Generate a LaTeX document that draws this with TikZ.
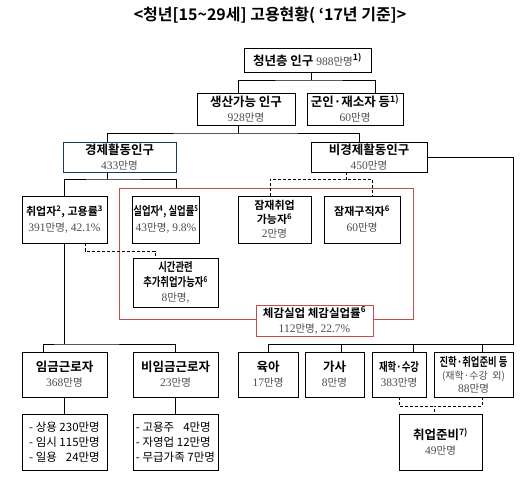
\documentclass[tikz,border=0pt]{standalone}
\usepackage{fontspec}
\setmainfont{Noto Sans CJK KR}[BoldFont={Noto Sans CJK KR Bold}]
\newfontfamily\condfont{Noto Sans CJK KR}[FakeStretch=0.78,BoldFont={Noto Sans CJK KR Bold},BoldFeatures={FakeStretch=0.78}]
\newfontfamily\numfont{Liberation Serif}
\usetikzlibrary{calc}
\definecolor{NumClr}{rgb}{0.3,0.3,0.3}
\definecolor{FrameClr}{rgb}{0.75,0.31,0.30}
\definecolor{NavyClr}{rgb}{0.12,0.22,0.40}
% count line: number + unit (+ tail)
\newcommand\val[2][]{{\normalfont\color{NumClr}\fontsize{11.5}{15}\selectfont{\numfont #2}{\fontsize{10.5}{15}\selectfont 만명}{\numfont #1}}}

\begin{document}
\begin{tikzpicture}[x=1pt,y=-1pt,
  box/.style={draw,line width=.9pt,fill=white,align=center,inner sep=1pt,
    font=\fontsize{12.5}{15}\selectfont\bfseries},
  subbox/.style={box,align=left,font=\fontsize{11.5}{15}\selectfont},
  link/.style={line width=.9pt},
  dlink/.style={line width=.9pt,dash pattern=on 3pt off 2pt}]

\useasboundingbox (0,0) rectangle (530,483);

\node[font=\fontsize{16}{18}\selectfont\bfseries] (title) at (270,15)
  {<청년[15\textasciitilde29세] 고용현황( ‘17년 기준]>};

% red frame round the felt unemployment group
\node[draw=FrameClr,line width=.9pt,inner sep=0pt,
  minimum width=294pt,minimum height=131pt] (feltarea) at (266,253.5) {};

\node[box,minimum width=127pt,minimum height=24pt] (pop) at (307.5,60)
  {청년층 인구 \val{988}\textsuperscript{1)}};
\node[box,minimum width=98pt,minimum height=32pt] (wa) at (246,109)
  {생산가능 인구\\\val{928}};
\node[box,minimum width=96pt,minimum height=32pt] (mil) at (355,109)
  {군인·재소자 등\textsuperscript{1)}\\\val{60}};
\node[box,draw=NavyClr,minimum width=113pt,minimum height=30pt] (econ) at (119.5,157)
  {경제활동인구\\\val{433}};
\node[box,minimum width=116pt,minimum height=30pt] (nonecon) at (369,157)
  {비경제활동인구\\\val{450}};

\node[box,minimum width=85pt,minimum height=47pt,font=\fontsize{11}{16}\selectfont\bfseries]
  (emp) at (64.5,219.5) {취업자\textsuperscript{2}, 고용률\textsuperscript{3}\\\val[, 42.1\%]{391}};
\node[box,minimum width=66pt,minimum height=47pt,font=\condfont\fontsize{12}{16}\selectfont\bfseries]
  (unemp) at (166,219.5) {실업자\textsuperscript{4}, 실업률\textsuperscript{5}\\\val[, 9.8\%]{43}};
\node[box,minimum width=73pt,minimum height=47pt,font=\fontsize{11}{14}\selectfont\bfseries]
  (latent1) at (274.5,219.5) {잠재취업\\가능자\textsuperscript{6}\\\val{2}};
\node[box,minimum width=76pt,minimum height=47pt,font=\fontsize{11}{16}\selectfont\bfseries]
  (latent2) at (362,219.5) {잠재구직자\textsuperscript{6}\\\val{60}};
\node[box,minimum width=85pt,minimum height=49pt,font=\condfont\fontsize{12}{15}\selectfont\bfseries]
  (timerel) at (175.5,282.5) {시간관련\\추가취업가능자\textsuperscript{6}\\\val[,]{8}};
\node[box,draw=FrameClr,minimum width=117pt,minimum height=31pt,font=\fontsize{11.5}{15}\selectfont\bfseries]
  (felt) at (314.5,320.5) {체감실업 체감실업률\textsuperscript{6}\\\val[, 22.7\%]{112}};

\node[box,minimum width=85pt,minimum height=45pt] (wage) at (64.5,374.5)
  {임금근로자\\\val{368}};
\node[box,minimum width=85pt,minimum height=45pt] (nonwage) at (175.5,374.5)
  {비임금근로자\\\val{23}};
\node[subbox,minimum width=85pt,minimum height=56pt] (wagesub) at (64.5,442)
  {- 상용 230만명\\- 임시 115만명\\- 일용 \phantom{0}24만명};
\node[subbox,minimum width=85pt,minimum height=56pt] (nonwagesub) at (175.5,442)
  {- 고용주 \phantom{0}4만명\\- 자영업 12만명\\- 무급가족 7만명};

\node[box,minimum width=60pt,minimum height=45pt] (child) at (268,374.5) {육아\\\val{17}};
\node[box,minimum width=59pt,minimum height=45pt] (house) at (334.5,374.5) {가사\\\val{8}};
\node[box,minimum width=54pt,minimum height=45pt,font=\condfont\fontsize{12}{15}\selectfont\bfseries]
  (school) at (399,374.5) {재학·수강\\\val{383}};
\node[box,minimum width=79pt,minimum height=45pt,font=\condfont\fontsize{12}{13}\selectfont\bfseries]
  (prep) at (473.5,374.5)
  {진학·취업준비 등\\{\normalfont\fontsize{10}{13}\selectfont\color{NumClr}(재학·수강 \ 외)}\\\val{88}};
\node[box,minimum width=83pt,minimum height=56pt] (jobprep) at (440.5,442)
  {취업준비\textsuperscript{7)}\\\val{49}};

% tree lines
\coordinate (j1) at (311,80);
\draw[link] ([xshift=3.5pt]pop.south) -- (j1);
\draw[link] ([xshift=-8pt]wa.north) |- (j1) -| ([xshift=20pt]mil.north);

\coordinate (j2) at (238,133);
\draw[link] ([xshift=-8pt]wa.south) -- (j2);
\draw[link] ([xshift=-12.5pt]econ.north) |- (j2) -| ([xshift=-10pt]nonecon.north);

\coordinate (rb) at (513,344);
\draw[link] (nonecon.east) -| (rb) -| (child.north);
\draw[link] ([xshift=6.5pt]house.north) |- (rb);
\draw[link] ([xshift=14pt]school.north) |- (rb);
\draw[link] ([xshift=8.5pt]prep.north) |- (rb);

\coordinate (j4) at (107,179);
\draw[link] ([xshift=-12.5pt]econ.south) -- (j4);
\draw[link] (emp.north) |- (j4) -| ([xshift=-90pt]feltarea.north);

\coordinate (j5) at (64.5,344);
\draw[link] (emp.south) -- (j5);
\draw[link] ([xshift=-21.5pt]wage.north) |- (j5) -| (nonwage.north);
\draw[link] (wage) -- (wagesub);
\draw[link] (nonwage) -- (nonwagesub);

% dashed links
\coordinate (j6) at (346,179);
\draw[dlink] ([xshift=-23pt]nonecon.south) -- (j6);
\draw[dlink] ([xshift=-4.5pt]latent1.north) |- (j6) -| ([xshift=10pt]latent2.north);

\coordinate (j7) at (85,251);
\draw[dlink] ([xshift=20.5pt]emp.south) -- (j7) -| ([xshift=-20.5pt]timerel.north);

\coordinate (j8) at (434,406);
\draw[dlink] (school.south) |- (j8);
\draw[dlink] ([xshift=8.5pt]prep.south) |- (j8) -- ([xshift=-6.5pt]jobprep.north);
\end{tikzpicture}
\end{document}
